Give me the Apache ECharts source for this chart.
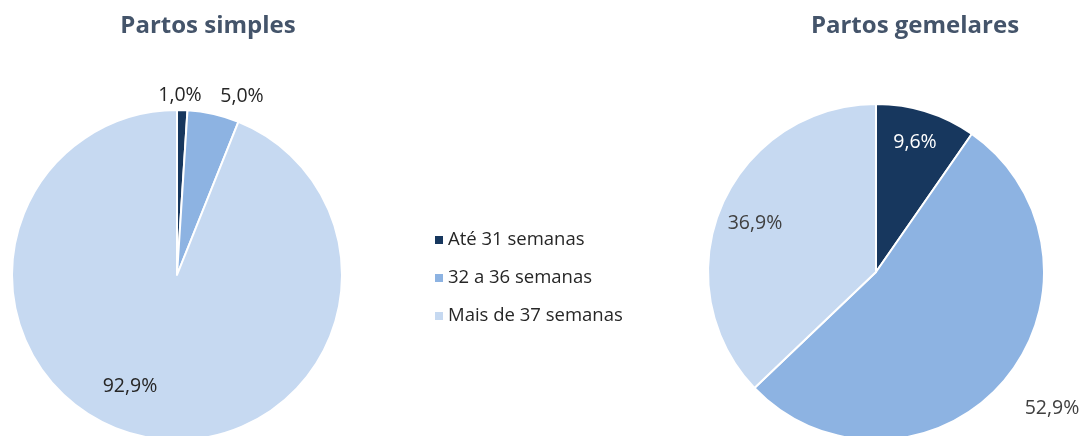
<!DOCTYPE html>
<html><head><meta charset="utf-8">
<script src="https://cdn.jsdelivr.net/npm/echarts@6/dist/echarts.min.js"></script>
<style>html,body{margin:0;padding:0;background:#fff}#c{width:1082px;height:436px}</style>
</head><body><div id="c"></div>
<script>
const categories = ['Até 31 semanas', '32 a 36 semanas', 'Mais de 37 semanas'];
const simplesValues = [1.0, 5.0, 92.9];
const gemelaresValues = [9.6, 52.9, 36.9];
const titles = ['Partos simples', 'Partos gemelares'];
const colors = ['#17375E', '#8DB3E2', '#C6D9F1'];

const font = 'Open Sans';
const fmt = p => p.value.toFixed(1).replace('.', ',') + '%';

const chart = echarts.init(document.getElementById('c'));
const simplesLabelPos = [[180, 95], [242, 96], [130, 386]];
const gemelaresLabelPos = [[915, 142], [1052, 408], [755, 223]];

function mkData(vals, labelColors) {
  return vals.map((v, i) => {
    const d = { name: categories[i], value: v };
    if (labelColors && labelColors[i]) d.label = { color: labelColors[i] };
    return d;
  });
}

chart.setOption({
  animation: false,
  color: colors,
  title: [
    { text: titles[0], left: 203, top: 9, textAlign: 'center',
      textStyle: { fontFamily: font, fontWeight: 'bold', fontSize: 24, color: '#44546A' } },
    { text: titles[1], left: 910, top: 9, textAlign: 'center',
      textStyle: { fontFamily: font, fontWeight: 'bold', fontSize: 24, color: '#44546A' } }
  ],
  legend: {
    orient: 'vertical', left: 428, top: 223,
    data: categories, icon: 'rect', itemWidth: 10, itemHeight: 10, itemGap: 14,
    textStyle: { fontFamily: font, fontSize: 18.5, lineHeight: 24, color: '#262626', padding: [0, 0, 0, -1] }
  },
  series: [
    {
      type: 'pie', center: [177, 275], radius: 165, startAngle: 90,
      data: mkData(simplesValues),
      itemStyle: { borderColor: '#fff', borderWidth: 2 },
      label: { formatter: fmt, position: 'inside', fontFamily: font, fontSize: 19.5, color: '#262626' },
      labelLine: { show: false },
      labelLayout: p => ({ x: simplesLabelPos[p.dataIndex][0], y: simplesLabelPos[p.dataIndex][1], align: 'center', verticalAlign: 'middle' })
    },
    {
      type: 'pie', center: [876, 272], radius: 168, startAngle: 90,
      data: mkData(gemelaresValues, ['#ffffff']),
      itemStyle: { borderColor: '#fff', borderWidth: 2 },
      label: { formatter: fmt, position: 'inside', fontFamily: font, fontSize: 19.5, color: '#404040' },
      labelLine: { show: false },
      labelLayout: p => ({ x: gemelaresLabelPos[p.dataIndex][0], y: gemelaresLabelPos[p.dataIndex][1], align: 'center', verticalAlign: 'middle' })
    }
  ]
});
</script></body></html>
